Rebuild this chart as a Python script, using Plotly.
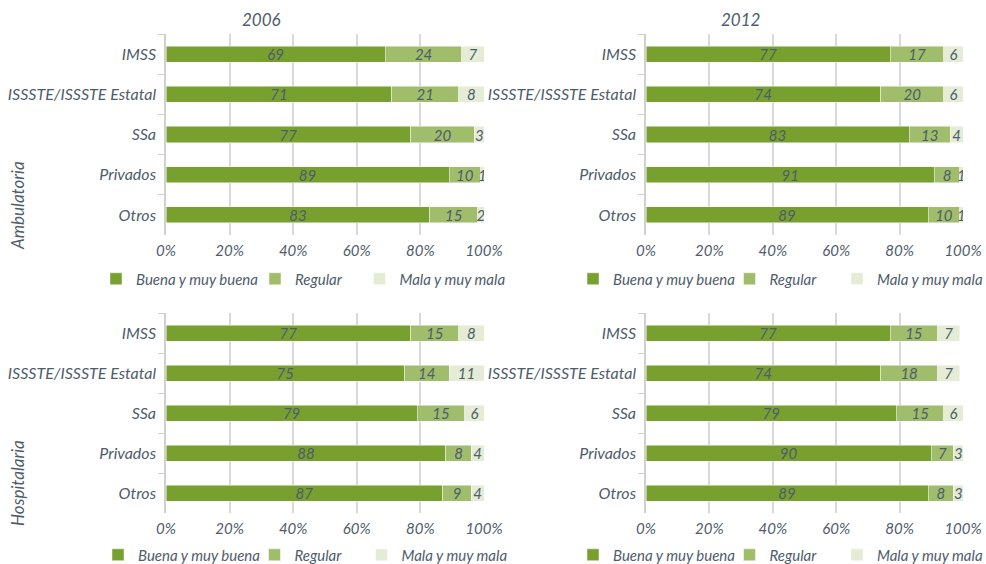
import plotly.graph_objects as go
from plotly.subplots import make_subplots

categories = ["IMSS", "ISSSTE/ISSSTE Estatal", "SSa", "Privados", "Otros"]
series_names = ["Buena y muy buena", "Regular", "Mala y muy mala"]
tick_vals = [0, 20, 40, 60, 80, 100]
tick_text = ["0%", "20%", "40%", "60%", "80%", "100%"]
col_titles = ["2006", "2012"]
row_titles = ["Ambulatoria", "Hospitalaria"]

amb_2006_buena = [69, 71, 77, 89, 83]
amb_2006_regular = [24, 21, 20, 10, 15]
amb_2006_mala = [7, 8, 3, 1, 2]

amb_2012_buena = [77, 74, 83, 91, 89]
amb_2012_regular = [17, 20, 13, 8, 10]
amb_2012_mala = [6, 6, 4, 1, 1]

hosp_2006_buena = [77, 75, 79, 88, 87]
hosp_2006_regular = [15, 14, 15, 8, 9]
hosp_2006_mala = [8, 11, 6, 4, 4]

hosp_2012_buena = [77, 74, 79, 90, 89]
hosp_2012_regular = [15, 18, 15, 7, 8]
hosp_2012_mala = [7, 7, 6, 3, 3]

colors = ["#78A02F", "#9FBD6B", "#E4ECD5"]
TXT = "#4E5C6C"
FONT = "Lato"

OFF = 0
W, H = 986, 564
ML, MR, MT, MB = 20, 20, 10, 20
PW, PH = W - ML - MR, H - MT - MB
def px(x): return (x - OFF - ML) / PW
def py(y): return 1 - (y - OFF - MT) / PH

panels = [
    (1, 1, [amb_2006_buena, amb_2006_regular, amb_2006_mala]),
    (1, 2, [amb_2012_buena, amb_2012_regular, amb_2012_mala]),
    (2, 1, [hosp_2006_buena, hosp_2006_regular, hosp_2006_mala]),
    (2, 2, [hosp_2012_buena, hosp_2012_regular, hosp_2012_mala]),
]

# legend item positions (square left, text start) in pixels, and legend row y
legend_items = {
    (1, 1): [(118, 128), (277, 287), (380, 393)],
    (1, 2): [(595, 605), (749, 764), (858, 870)],
    (2, 1): [(120, 130), (274, 289), (382, 395)],
    (2, 2): [(595, 605), (749, 764), (858, 870)],
}
legend_y = {1: 279, 2: 555}

fig = make_subplots(rows=2, cols=2)

legends = {}
k = 0
for r, c, data in panels:
    for i, (name, vals, col) in enumerate(zip(series_names, data, colors)):
        k += 1
        lname = "legend" if k == 1 else f"legend{k}"
        sq, tx = legend_items[(r, c)][i]
        lx = (sq + tx - 54) / 2
        legends[lname] = dict(x=px(lx), y=py(legend_y[r]), orientation="h",
                              yanchor="middle", xanchor="left", visible=True,
                              font=dict(family=FONT, size=15, color=TXT, style="italic"),
                              bgcolor="rgba(0,0,0,0)", itemwidth=30)
        fig.add_trace(go.Bar(
            y=categories, x=vals, name=name, orientation="h",
            marker=dict(color=col, line=dict(color="rgba(255,255,255,0.6)", width=0.8)),
            text=[str(v) for v in vals], textposition="inside", textangle=0,
            insidetextanchor="middle",
            textfont=dict(family=FONT, size=15, color=TXT, style="italic"),
            legend=lname, showlegend=True, hoverinfo="x+y",
        ), row=r, col=c)

xdoms = {1: [px(166), px(484)], 2: [px(646), px(963)]}
ydoms = {1: [py(235), py(34)], 2: [py(513), py(313)]}

for r in (1, 2):
    for c in (1, 2):
        fig.update_xaxes(domain=xdoms[c], range=[0, 100], tickvals=tick_vals, ticktext=tick_text,
                         showgrid=True, gridcolor="#D9D9D9", gridwidth=1.5, zeroline=False,
                         showline=False, ticks="", automargin=False, ticklabelstandoff=5,
                         ticklabeloverflow="allow",
                         tickfont=dict(family=FONT, size=15, color=TXT, style="italic"),
                         row=r, col=c)
        fig.update_yaxes(domain=ydoms[r], categoryorder="array", categoryarray=categories,
                         autorange="reversed", showline=True, linecolor="#D0D0D0", linewidth=1.5,
                         ticks="outside", tickson="boundaries", ticklen=6, tickcolor="#D0D0D0",
                         showgrid=False, automargin=False, ticklabelstandoff=5,
                         tickfont=dict(family=FONT, size=16, color=TXT, style="italic"),
                         row=r, col=c)

fig.update_layout(
    width=W, height=H, margin=dict(l=ML, r=MR, t=MT, b=MB, autoexpand=False),
    plot_bgcolor="white", paper_bgcolor="white",
    barmode="stack", bargap=0.6, showlegend=True,
    uniformtext=dict(minsize=15, mode="show"),
    **legends,
)

for title, xc in zip(col_titles, [261, 740]):
    fig.add_annotation(text=title, x=px(xc), y=py(19), xref="paper", yref="paper",
                       xanchor="center", yanchor="middle",
                       showarrow=False, font=dict(family=FONT, size=17, color=TXT, style="italic"))
for title, yc in zip(row_titles, [206, 483]):
    fig.add_annotation(text=title, x=px(17), y=py(yc), xref="paper", yref="paper",
                       xanchor="center", yanchor="middle",
                       textangle=-90, showarrow=False,
                       font=dict(family=FONT, size=17, color=TXT, style="italic"))

fig.write_html("out.html", config={"displayModeBar": False},
               post_script="document.body.style.margin='0';document.body.style.overflow='hidden';")
